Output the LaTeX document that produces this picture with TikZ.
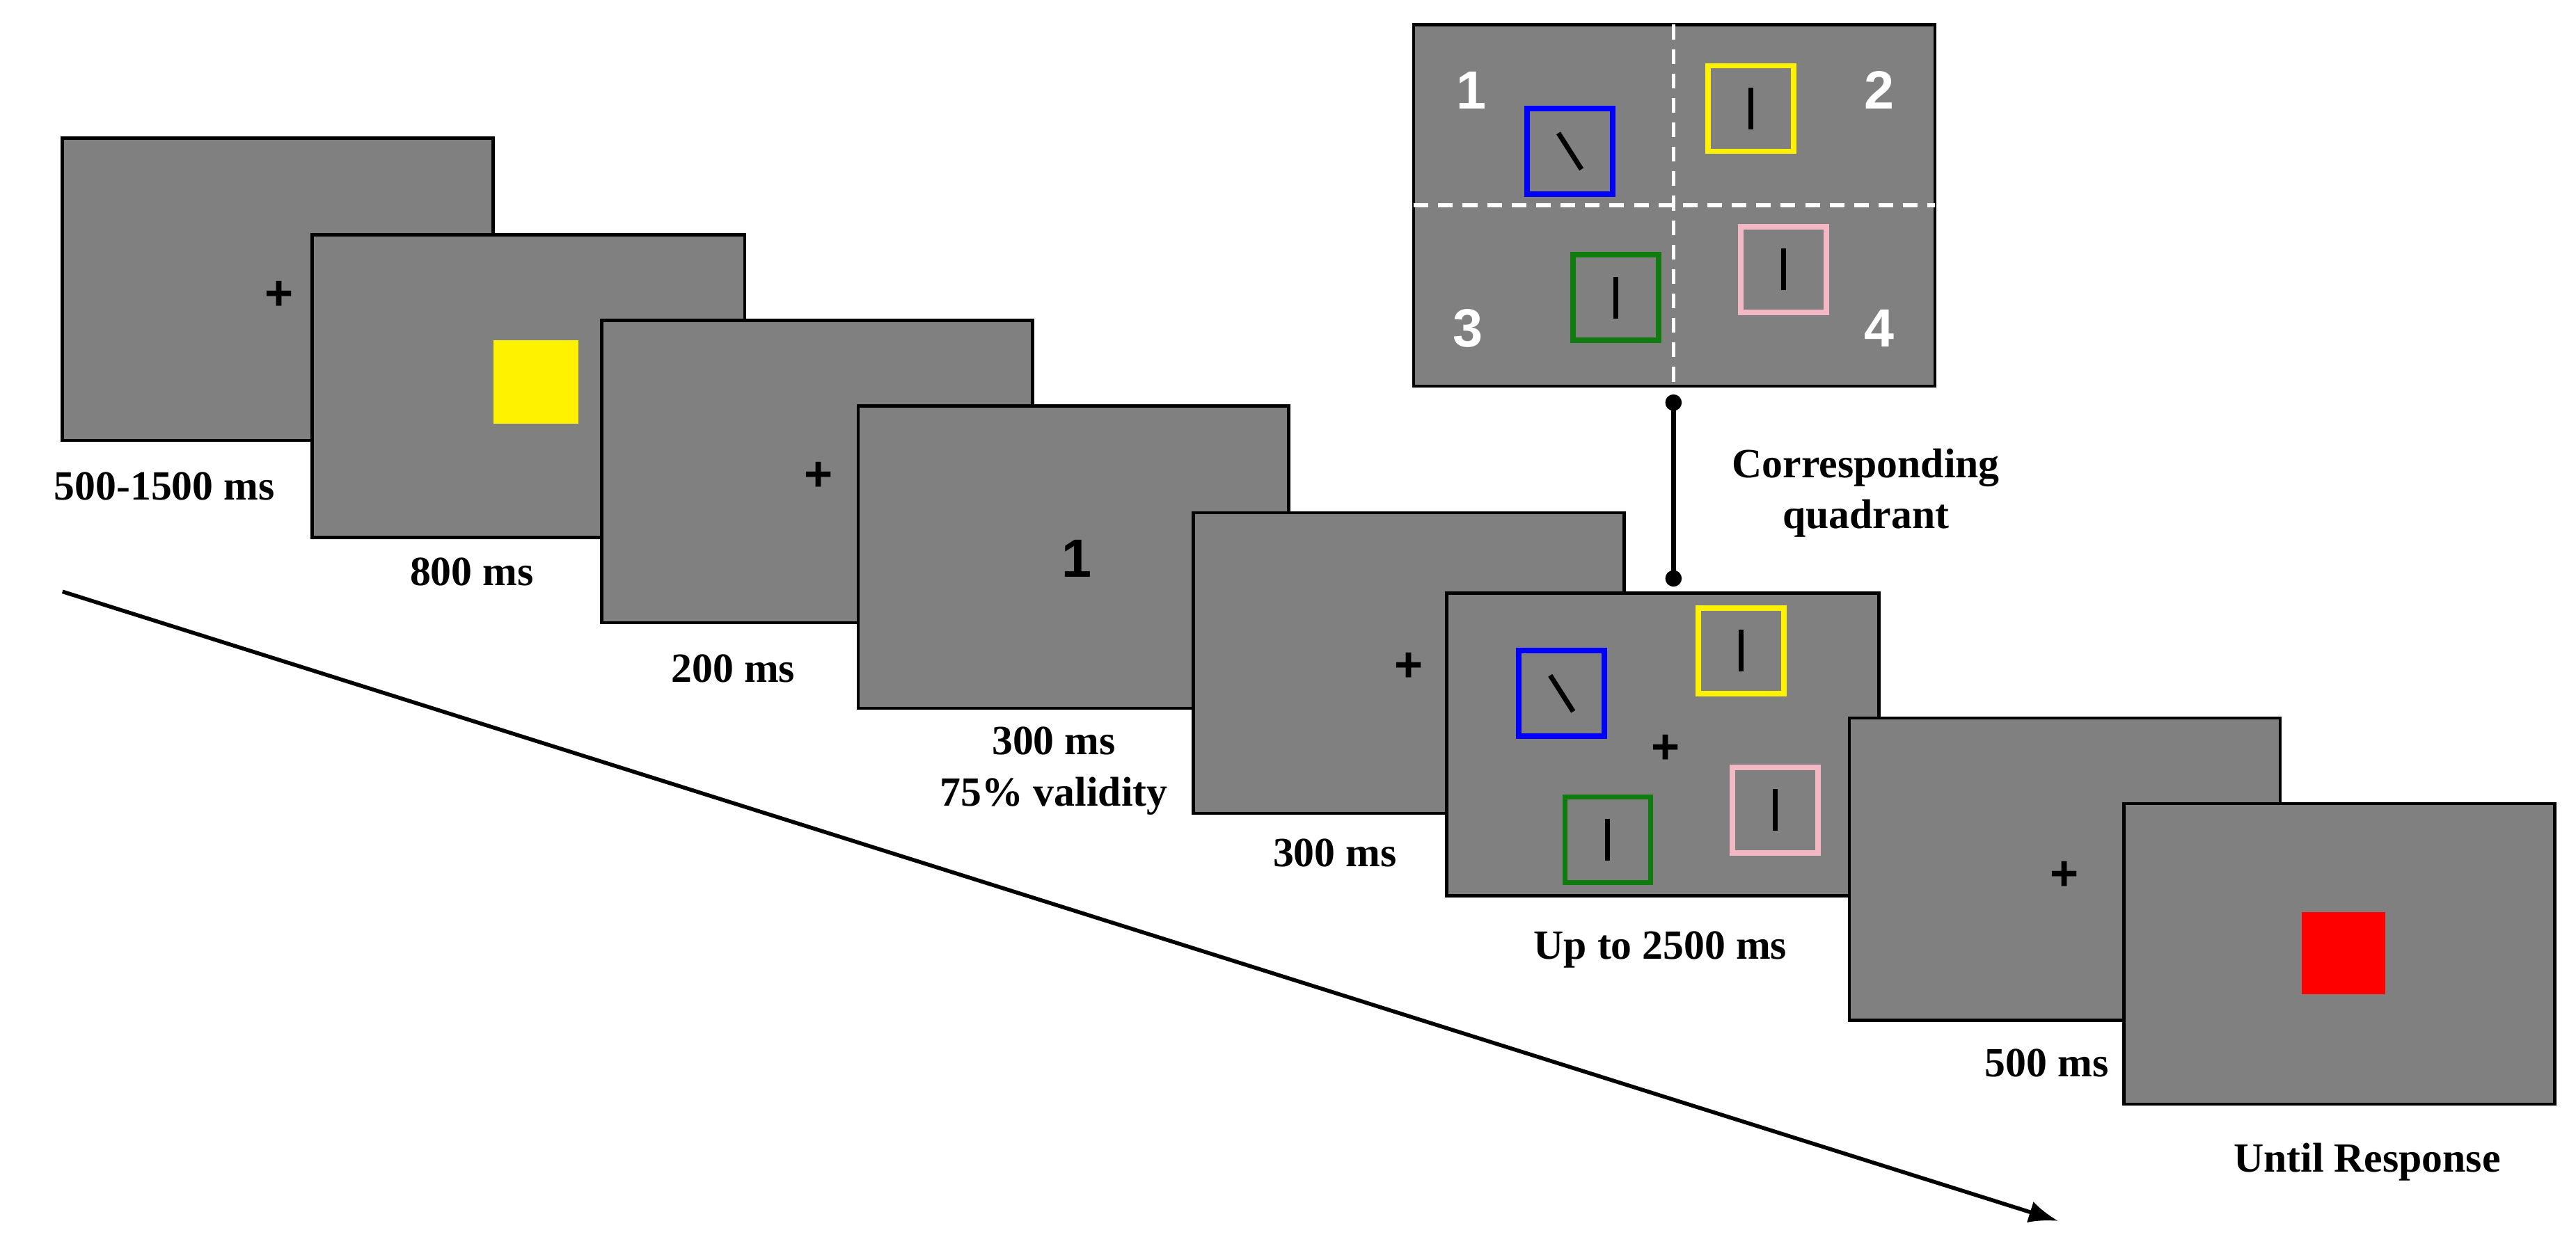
\documentclass[tikz,border=0pt]{standalone}
\usepackage{fontspec}
\setmainfont{Liberation Serif}
\newfontfamily\sans{Liberation Sans}
\usetikzlibrary{arrows.meta}
\begin{document}
\begin{tikzpicture}[x=0.02362cm,y=-0.02362cm,
  screen/.style={draw=black,line width=1.3pt,fill=gray!100!white,fill=[HTML]808080},
  lab/.style={font=\fontsize{17}{21}\selectfont\bfseries,align=center},
  plus/.style={font=\sans\fontsize{20}{20}\selectfont\bfseries},
  qnum/.style={font=\sans\fontsize{22}{22}\selectfont\bfseries,text=white},
  stim/.style={line width=2.2pt,minimum size=1.23cm,draw},
  bar/.style={line width=2pt,black}]
\definecolor{scr}{HTML}{808080}
\definecolor{pinkb}{HTML}{F4B8C4}
\definecolor{greenb}{HTML}{107C10}
\tikzset{screen/.style={draw=black,line width=1.3pt,fill=scr}}
\useasboundingbox (0,0) rectangle (1567,757);
\newcommand{\tgt}[4]{% name, color, center x, center y
  \node[stim,draw=#2] (#1) at (#3,#4) {};
}
% arrow
\coordinate (a0) at (38,360); \coordinate (a1) at (1252,743);
\draw[line width=1.6pt,-{Latex[length=12pt,width=9pt]}] (a0) -- (a1);
% screen 1
\draw[screen] (38,84) rectangle (300,268);
\node[plus] (p1) at (170,180) {+};
\node[lab] (l1) at (100,296) {500-1500 ms};
% screen 2
\draw[screen] (190,143) rectangle (453,327);
\fill[yellow] (300,207) rectangle (352,258);
\node[lab] (l2) at (287,348) {800 ms};
% screen 3
\draw[screen] (366,195) rectangle (628,379);
\node[plus] (p3) at (498,290) {+};
\node[lab] (l3) at (446,407) {200 ms};
% screen 4
\draw[screen] (522,247) rectangle (784,431);
\node[font=\sans\fontsize{22}{22}\selectfont\bfseries] (n4) at (655,340) {1};
\node[lab] (l4) at (641,469) {300 ms\\75\% validity};
% screen 5
\draw[screen] (726,312) rectangle (988,495);
\node[plus] (p5) at (857,406) {+};
\node[lab] (l5) at (812,519) {300 ms};
% screen 6
\draw[screen] (880,361) rectangle (1143,545);
\node[plus] (p6) at (1013,456) {+};
\tgt{b6}{blue}{950}{422}
\tgt{y6}{yellow}{1059}{396}
\tgt{g6}{greenb}{978}{511}
\tgt{k6}{pinkb}{1080}{493}
\draw[bar] (943,411) -- (957,433);
\foreach \n in {y6,g6,k6} \draw[bar] ([yshift=-0.3cm]\n.center) -- ([yshift=0.3cm]\n.center);
\node[lab] (l6) at (1010,578) {Up to 2500 ms};
% screen 7
\draw[screen] (1125,437) rectangle (1387,621);
\node[plus] (p7) at (1256,533) {+};
\node[lab] (l7) at (1245,647) {500 ms};
% screen 8
\draw[screen] (1292,489) rectangle (1554,672);
\fill[red] (1400,555) rectangle (1451,605);
\node[lab] (l8) at (1440,707) {Until Response};
% quadrant panel
\draw[screen] (860,15) rectangle (1177,235);
\draw[white,line width=1.6pt,dash pattern=on 6pt off 4pt] (1018,15) -- (1018,235);
\draw[white,line width=1.6pt,dash pattern=on 6pt off 4pt] (860,125) -- (1177,125);
\tgt{bq}{blue}{955}{92}
\tgt{yq}{yellow}{1065}{66}
\tgt{gq}{greenb}{983}{181}
\tgt{kq}{pinkb}{1085}{164}
\draw[bar] (948,81) -- (962,103);
\foreach \n in {yq,gq,kq} \draw[bar] ([yshift=-0.3cm]\n.center) -- ([yshift=0.3cm]\n.center);
\node[qnum] (q1) at (895,55) {1};
\node[qnum] (q2) at (1143,55) {2};
\node[qnum] (q3) at (893,200) {3};
\node[qnum] (q4) at (1143,200) {4};
% connector
\coordinate (c0) at (1018,245); \coordinate (c1) at (1018,352);
\draw[line width=1.8pt] (c0) -- (c1);
\fill (c0) circle (5); \fill (c1) circle (5);
\node[lab] (cl) at (1135,300) {Corresponding\\quadrant};
\end{tikzpicture}
\end{document}
